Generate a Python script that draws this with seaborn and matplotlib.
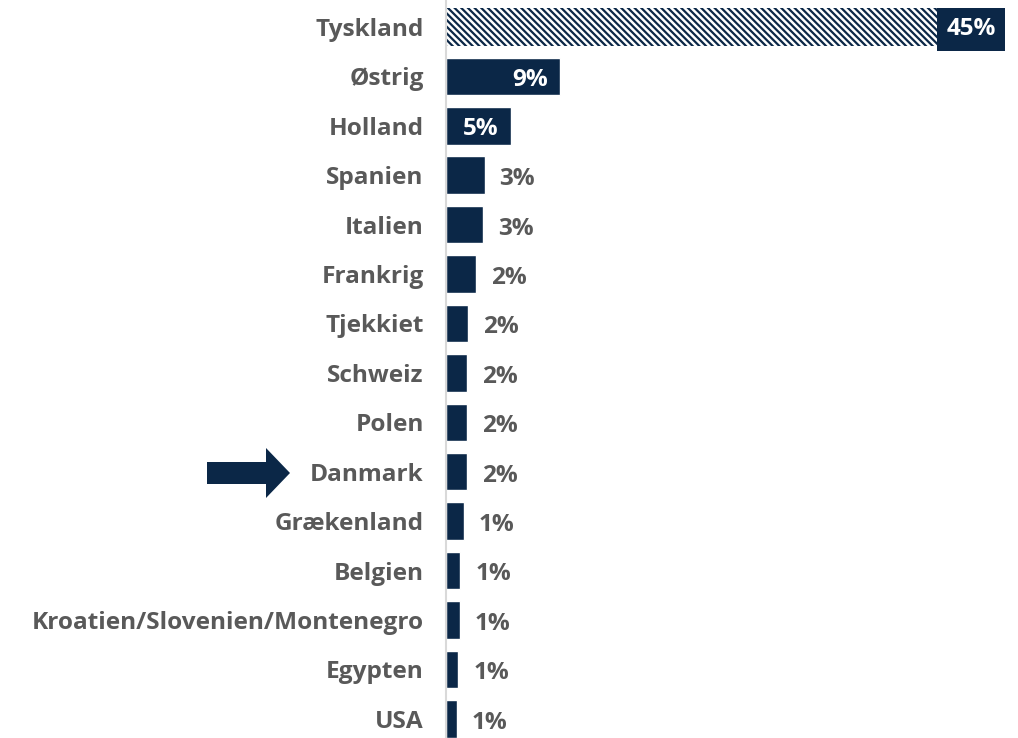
import pandas as pd
import numpy as np
import matplotlib.pyplot as plt
import seaborn as sns
from matplotlib.patches import FancyArrow

lande = ['Tyskland', 'Østrig', 'Holland', 'Spanien', 'Italien', 'Frankrig', 'Tjekkiet',
         'Schweiz', 'Polen', 'Danmark', 'Grækenland', 'Belgien',
         'Kroatien/Slovenien/Montenegro', 'Egypten', 'USA']
andel = [45, 9.2, 5.2, 3.1, 3.0, 2.4, 1.8, 1.7, 1.7, 1.7, 1.45, 1.15, 1.1, 1.0, 0.9]
labels = ['45%', '9%', '5%', '3%', '3%', '2%', '2%', '2%', '2%', '2%', '1%', '1%', '1%', '1%', '1%']

df = pd.DataFrame({'land': lande, 'andel': andel, 'label': labels})

navy = '#0b2747'
grey = '#595959'

sns.set_style('white')
plt.rcParams['font.family'] = ['Open Sans', 'DejaVu Sans']
plt.rcParams['hatch.linewidth'] = 1.6
plt.rcParams['hatch.color'] = navy

fig = plt.figure(figsize=(10.18, 7.38), dpi=100)
ax = fig.add_axes([446 / 1018, 0, (1005 - 446) / 1018, 1])

sns.barplot(data=df, x='andel', y='land', orient='h', color=navy, width=0.76,
            saturation=1, ax=ax)

# top bar hatched
top = ax.patches[0]
top.set_facecolor('white')
top.set_edgecolor(navy)
top.set_linewidth(0)
top.set_hatch('\\\\\\\\\\')

ax.set_xlim(0, 45)
ax.set_ylim(14.39, -0.547)
ax.set_xlabel('')
ax.set_ylabel('')
ax.set_xticks([])
for s in ['top', 'right', 'bottom']:
    ax.spines[s].set_visible(False)
ax.spines['left'].set_color('#d9d9d9')
ax.spines['left'].set_linewidth(1.5)
ax.tick_params(axis='y', length=0, pad=16)
for t in ax.get_yticklabels():
    t.set_fontsize(17.6)
    t.set_fontweight('bold')
    t.set_color(grey)

for i, (v, lab) in enumerate(zip(andel, labels)):
    if i == 0:
        ax.text(v - 0.75, i + 0.05, lab, ha='right', va='center', fontsize=17.5, fontweight='bold',
                color='white', bbox=dict(facecolor=navy, edgecolor='none', pad=7))
    elif v >= 5:
        ax.text(v - 1.0, i + 0.07, lab, ha='right', va='center', fontsize=17.5,
                fontweight='bold', color='white')
    else:
        ax.text(v + 1.2, i + 0.08, lab, ha='left', va='center', fontsize=17.5,
                fontweight='bold', color=grey)

# arrow pointing at Danmark
fig.patches.append(FancyArrow(207 / 1018, 1 - 473 / 738, 83 / 1018, 0,
                              width=22 / 738, head_width=50 / 738, head_length=24 / 1018,
                              length_includes_head=True, transform=fig.transFigure,
                              color=navy, linewidth=0))

fig.savefig('out.png', dpi=100)
